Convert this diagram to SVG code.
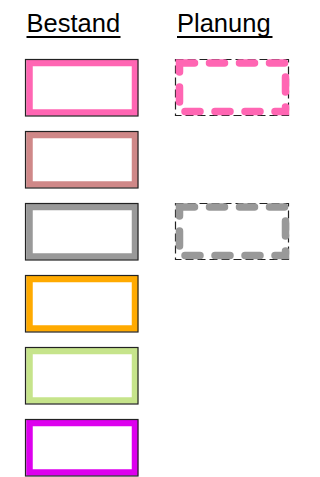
<svg xmlns="http://www.w3.org/2000/svg" width="320" height="477" viewBox="0 0 320 477">
<style>
.lbl{font-family:"Liberation Sans",Arial,sans-serif;font-size:25.5px;fill:#000}
.ul{stroke:#000;stroke-width:2}
.out{fill:none;stroke:#222;stroke-width:1.2}
.band{fill:#fff;stroke-width:6.5}
.dout{fill:none;stroke:#222;stroke-width:1.2;stroke-dasharray:8 4}
.dband{fill:none;stroke-width:7.5;stroke-linecap:round;stroke-dasharray:15 15}
</style>
<rect width="320" height="477" fill="#fff"/>
<g id="header-bestand"><text class="lbl" x="26.5" y="32">Bestand</text><line class="ul" x1="26.5" y1="37" x2="120.5" y2="37"/></g>
<g id="header-planung"><text class="lbl" x="177" y="32">Planung</text><line class="ul" x1="177" y1="37" x2="272.5" y2="37"/></g>
<g id="bestand-pink"><rect class="band" x="29.5" y="63" width="105.5" height="49.5" stroke="#FF66B3"/><rect class="out" x="25.5" y="59.5" width="112.5" height="56.5"/></g>
<g id="bestand-brown"><rect class="band" x="29.5" y="135" width="105.5" height="49.5" stroke="#CF8888"/><rect class="out" x="25.5" y="131.5" width="112.5" height="56.5"/></g>
<g id="bestand-gray"><rect class="band" x="29.5" y="207" width="105.5" height="49.5" stroke="#999999"/><rect class="out" x="25.5" y="203.5" width="112.5" height="56.5"/></g>
<g id="bestand-orange"><rect class="band" x="29.5" y="279" width="105.5" height="49.5" stroke="#FFAA00"/><rect class="out" x="25.5" y="275.5" width="112.5" height="56.5"/></g>
<g id="bestand-green"><rect class="band" x="29.5" y="351" width="105.5" height="49.5" stroke="#C6E48B"/><rect class="out" x="25.5" y="347.5" width="112.5" height="56.5"/></g>
<g id="bestand-purple"><rect class="band" x="29.5" y="423" width="105.5" height="49.5" stroke="#DD00EE"/><rect class="out" x="25.5" y="419.5" width="112.5" height="56.5"/></g>
<g id="planung-pink"><rect class="dout" x="175.5" y="59.5" width="113" height="56"/><rect class="dband" x="179.5" y="63" width="106" height="48.5" stroke="#FF66B3"/></g>
<g id="planung-gray"><rect class="dout" x="175.5" y="203.5" width="113" height="56"/><rect class="dband" x="179.5" y="207" width="106" height="48.5" stroke="#999999"/></g>
</svg>
